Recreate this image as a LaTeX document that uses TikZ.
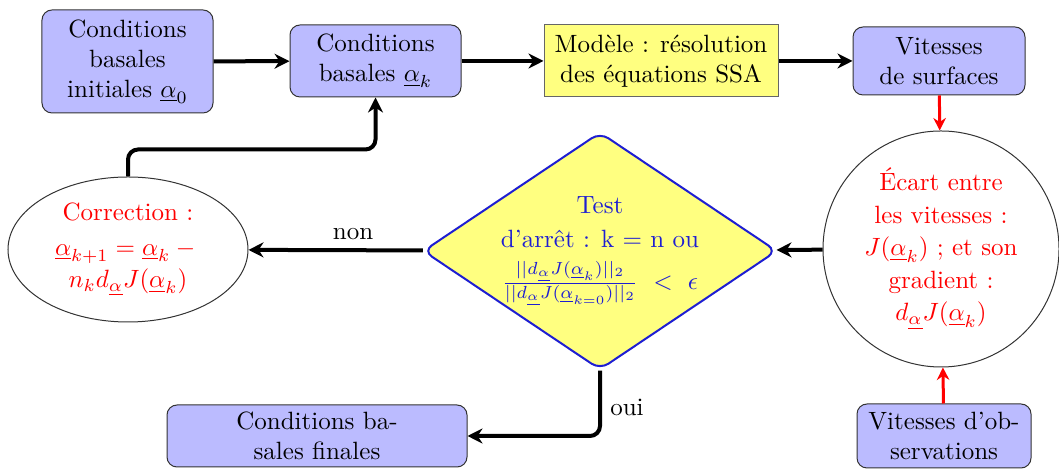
\documentclass[tikz,border=0pt]{standalone}
\usepackage{fontspec}
\usetikzlibrary{shapes.geometric,arrows.meta}
\definecolor{boxblue}{RGB}{187,187,255}
\definecolor{boxyellow}{RGB}{255,255,128}
\definecolor{diablue}{RGB}{30,30,210}
\begin{document}
\begin{tikzpicture}[x=0.4pt,y=-0.4pt,
  bluebox/.style={draw=black!80, fill=boxblue, rounded corners=4pt, align=center, inner sep=1pt},
  yelbox/.style={draw=black!60, fill=boxyellow, align=center, inner sep=1pt},
  arr/.style={line width=1.6pt, -{Stealth[length=6pt,width=6pt]}, rounded corners=4pt},
  redarr/.style={line width=1.2pt, red, -{Stealth[length=5pt,width=5pt]}}]
\useasboundingbox (0,0) rectangle (1059,470);
\node[bluebox, minimum width=68.4pt, minimum height=41.2pt, text width=66pt] (b1) at (127.5,61.5) {Conditions\\basales\\initiales $\underline{\alpha}_0$};
\node[bluebox, minimum width=68.4pt, minimum height=28.8pt, text width=66pt] (b2) at (375.5,61) {Conditions\\basales $\underline{\alpha}_k$};
\node[yelbox, minimum width=93.6pt, minimum height=28.8pt] (b3) at (661,61) {Modèle : résolution\\des équations SSA};
\node[bluebox, minimum width=68.8pt, minimum height=27.2pt] (b4) at (939,61) {Vitesses\\de surfaces};
\node[circle, draw=black!80, minimum size=94.4pt, align=center, text=red, inner sep=0pt] (ec) at (941,249) {Écart entre\\[1pt]les vitesses :\\[1pt]$J(\underline{\alpha}_k)$ ; et son\\[1pt]gradient :\\[1pt]$d_{\underline{\alpha}}J(\underline{\alpha}_k)$};
\node[bluebox, minimum width=69.6pt, minimum height=25.6pt] (obs) at (944,436) {Vitesses d'ob-\\servations};
\node[diamond, aspect=1.5, draw=diablue, line width=0.8pt, fill=boxyellow, rounded corners=4pt, minimum width=141.6pt, minimum height=95pt, text=diablue, align=center, inner sep=-6pt] (dia) at (600,251) {Test\\[1.5pt]d'arrêt : k = n ou\\[5pt]$\frac{||d_{\underline{\alpha}}J(\underline{\alpha}_k)||_2}{||d_{\underline{\alpha}}J(\underline{\alpha}_{k=0})||_2}\ <\ \epsilon$};
\node[ellipse, draw=black!80, minimum width=96pt, minimum height=58pt, text=red, align=center, inner sep=0pt] (cor) at (128,249.5) {Correction :\\[2pt]$\underline{\alpha}_{k+1} = \underline{\alpha}_k - {}$\\[1pt]$n_k d_{\underline{\alpha}} J(\underline{\alpha}_k)$};
\node[bluebox, minimum width=120pt, minimum height=24.8pt] (fin) at (317,436) {Conditions ba-\\sales finales};
\draw[arr] (b1) -- (b2);
\draw[arr] (b2) -- (b3);
\draw[arr] (b3) -- (b4);
\draw[redarr] (b4) -- (ec);
\draw[redarr] (obs) -- (ec);
\draw[arr] (ec) -- (dia);
\draw[arr] (dia) -- node[above, pos=0.4] (non) {non} (cor);
\draw[arr] (cor.north) -- ++(0,-27) -| (b2.south);
\draw[arr] (dia.south) |- node[right, pos=0.28] (oui) {oui} (fin.east);
\end{tikzpicture}
\end{document}
